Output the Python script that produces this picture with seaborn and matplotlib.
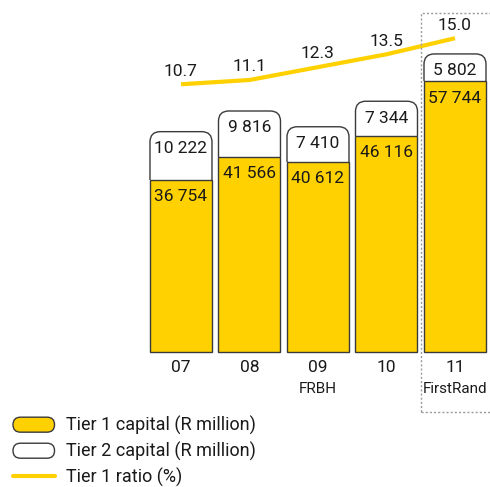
import numpy as np
import pandas as pd
import seaborn as sns
import matplotlib
matplotlib.use("Agg")
import matplotlib.pyplot as plt
from matplotlib.patches import FancyBboxPatch, Patch, Rectangle
from matplotlib.lines import Line2D
from matplotlib.legend_handler import HandlerPatch
from matplotlib import transforms

# Capital adequacy, 2007-2011
years = ["07", "08", "09", "10", "11"]
entity = ["", "", "FRBH", "", "FirstRand"]
tier1 = [36754, 41566, 40612, 46116, 57744]
tier2 = [10222, 9816, 7410, 7344, 5802]
tier1_ratio = [10.7, 11.1, 12.3, 13.5, 15.0]

legend_labels = ["Tier 1 capital (R million)", "Tier 2 capital (R million)", "Tier 1 ratio (%)"]

YELLOW = "#FFD100"
EDGE = "#3a3a3a"
TEXT = "#1a1a1a"

sns.set_style("white")
plt.rcParams["font.family"] = ["Roboto", "DejaVu Sans"]
plt.rcParams["text.color"] = TEXT

df = pd.DataFrame({"year": years, "tier1": tier1, "tier2": tier2, "ratio": tier1_ratio})
df["total"] = df["tier1"] + df["tier2"]

fig = plt.figure(figsize=(4.9, 4.87), dpi=100)
ax = fig.add_axes([0, 0.2772, 1, 0.7228])

# Total capital (white top segment), drawn first
sns.barplot(data=df, x="year", y="total", color="white", edgecolor=EDGE,
            linewidth=1.0, saturation=1, width=0.905, ax=ax)

ax.set_xlim(-2.642, 4.511)
ax.set_ylim(0, 75046)

# Swap the total bars for round-topped boxes, clipped so that only the
# part above the Tier 1 segment is drawn
r_x = 0.15
px_x = 1 / 68.5
px_y = 213.2
mut_aspect = px_y / px_x
for p, t1 in zip(list(ax.patches), tier1):
    x = p.get_x()
    w, h = p.get_width(), p.get_height()
    p.remove()
    box = FancyBboxPatch((x, 0), w, h,
                         boxstyle=f"round,pad=0,rounding_size={r_x}",
                         mutation_aspect=mut_aspect,
                         facecolor="white", edgecolor=EDGE, linewidth=1.0, zorder=2)
    ax.add_patch(box)
    clip = Rectangle((x - 0.2, t1), w + 0.4, h, transform=ax.transData)
    box.set_clip_path(clip)

# Tier 1 capital (yellow) on top
sns.barplot(data=df, x="year", y="tier1", color=YELLOW, edgecolor=EDGE,
            linewidth=1.0, saturation=1, width=0.905, ax=ax, zorder=3)
ax.set_xlim(-2.642, 4.511)
ax.set_ylim(0, 75046)
for p in ax.patches:
    if p.get_facecolor()[2] < 0.5:
        p.set_clip_on(False)

fmt = lambda v: f"{v:,}".replace(",", " ")
for i, row in df.iterrows():
    ax.annotate(fmt(row["tier2"]), xy=(i, row["total"]), xytext=(0, -12.2),
                textcoords="offset points", ha="center", va="center",
                fontsize=12.5, color=TEXT, zorder=5)
    ax.annotate(fmt(row["tier1"]), xy=(i, row["tier1"]), xytext=(0, -12.2),
                textcoords="offset points", ha="center", va="center",
                fontsize=12.5, color=TEXT, zorder=5)

# Tick labels below each bar
ax.set_xticks(range(len(years)))
ax.set_xticklabels(years, fontsize=12.5, color=TEXT)
ax.tick_params(axis="x", length=0, pad=6)
ax.set_yticks([])
ax.set_xlabel("")
ax.set_ylabel("")
for i, name in enumerate(entity):
    if name:
        ax.annotate(name, xy=(i, 0), xycoords=("data", "axes fraction"),
                    xytext=(0, -26.5), textcoords="offset points",
                    ha="center", va="center", fontsize=11, color=TEXT)
for s in ax.spines.values():
    s.set_visible(False)

# Tier 1 ratio line on its own scale
ax2 = ax.twinx()
sns.lineplot(x=np.arange(len(years)), y=df["ratio"], color=YELLOW, linewidth=3,
             ax=ax2, solid_capstyle="butt")
ax2.set_ylim(-14.30, 18.57)
ax2.set_yticks([])
ax2.set_ylabel("")
for s in ax2.spines.values():
    s.set_visible(False)
for i, v in enumerate(tier1_ratio):
    ax2.annotate(f"{v:.1f}", xy=(i, v), xytext=(0, 9.5), textcoords="offset points",
                 ha="center", va="center", fontsize=12.5, color=TEXT)

# Dotted frame around the FirstRand year
trans = transforms.blended_transform_factory(ax.transData, fig.transFigure)
frame = Rectangle((3.5, 1 - 412 / 487), 2.0, 399 / 487, transform=trans,
                  fill=False, edgecolor="#9a9a9a", linewidth=1.0,
                  linestyle=(0, (1.5, 1.5)), clip_on=False)
fig.add_artist(frame)


def round_handle(legend, orig_handle, xdescent, ydescent, width, height, fontsize):
    return FancyBboxPatch((-xdescent, -ydescent), width, height,
                          boxstyle=f"round,pad=0,rounding_size={height / 2}")


handles = [Patch(facecolor=YELLOW, edgecolor=EDGE, linewidth=1.0),
           Patch(facecolor="white", edgecolor=EDGE, linewidth=1.0),
           Line2D([], [], color=YELLOW, linewidth=3)]
fig.legend(handles, legend_labels, loc="upper left",
           bbox_to_anchor=(13 / 490, 1 - 416 / 487), bbox_transform=fig.transFigure,
           frameon=False, fontsize=13, borderpad=0, borderaxespad=0,
           handlelength=2.3, handleheight=0.9, handletextpad=0.65,
           labelspacing=0.38,
           handler_map={Patch: HandlerPatch(patch_func=round_handle)})

fig.savefig("out.png", dpi=100)
